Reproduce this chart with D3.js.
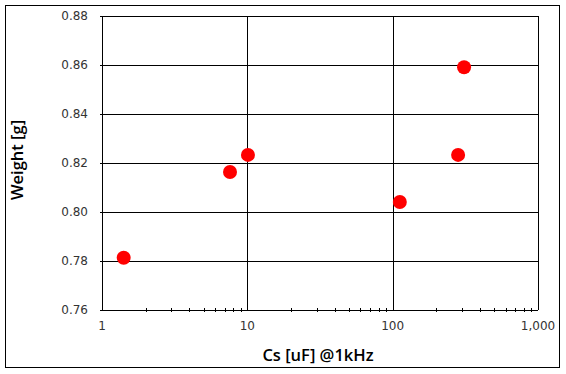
<!DOCTYPE html>
<html>
<head>
<meta charset="utf-8">
<script src="https://cdn.jsdelivr.net/npm/d3@7"></script>
<style>
  body { margin: 0; background: #fff; }
  text { font-family: "DejaVu Sans", Verdana, sans-serif; }
  .title { font-family: "Open Sans", "Noto Sans", sans-serif; font-weight: 600; font-size: 16.5px; }
</style>
</head>
<body>
<svg id="chart"></svg>
<script>
// data
const capacitance = [1.41, 7.6, 10.1, 112, 282, 310];
const weight = [0.7813, 0.8163, 0.8233, 0.8041, 0.8233, 0.8591];
const yTicks = [0.76, 0.78, 0.80, 0.82, 0.84, 0.86, 0.88];
const xMajor = [1, 10, 100, 1000];

const width = 566;
const height = 374;
const margin = { left: 102, right: 28, top: 16, bottom: 64 };

const svg = d3.select('svg#chart').attr('width', width).attr('height', height);

// outer frame
svg.append('rect')
  .attr('x', 5.5).attr('y', 5.5)
  .attr('width', 554).attr('height', 362)
  .attr('fill', 'none').attr('stroke', '#000').attr('stroke-width', 1);

const visWidth = width - margin.left - margin.right;
const visHeight = height - margin.top - margin.bottom;

const g = svg.append('g')
  .attr('transform', 'translate(' + margin.left + ', ' + margin.top + ')');

const xScale = d3.scaleLog().domain([1, 1000]).range([0, visWidth]);
const yScale = d3.scaleLinear().domain([0.76, 0.88]).range([visHeight, 0]);

// horizontal grid lines
g.append('g').selectAll('line').data(yTicks).enter().append('line')
  .attr('x1', 0).attr('x2', visWidth)
  .attr('y1', d => Math.round(yScale(d)) + 0.5)
  .attr('y2', d => Math.round(yScale(d)) + 0.5)
  .attr('stroke', '#000');

// vertical grid lines at decades
g.append('g').selectAll('line').data(xMajor).enter().append('line')
  .attr('x1', d => Math.round(xScale(d)) + 0.5)
  .attr('x2', d => Math.round(xScale(d)) + 0.5)
  .attr('y1', 0).attr('y2', visHeight)
  .attr('stroke', '#000');

// minor ticks on x axis
const minor = [];
[1, 10, 100].forEach(dec => { for (let k = 2; k <= 9; k++) minor.push(dec * k); });
g.append('g').selectAll('line').data(minor).enter().append('line')
  .attr('x1', d => Math.round(xScale(d)) + 0.5)
  .attr('x2', d => Math.round(xScale(d)) + 0.5)
  .attr('y1', visHeight - 2).attr('y2', visHeight + 2)
  .attr('stroke', '#000');

// small outward ticks on y axis
g.append('g').selectAll('line').data(yTicks).enter().append('line')
  .attr('x1', -2).attr('x2', 0)
  .attr('y1', d => Math.round(yScale(d)) + 0.5)
  .attr('y2', d => Math.round(yScale(d)) + 0.5)
  .attr('stroke', '#000');

// tick labels
g.append('g').selectAll('text').data(yTicks).enter().append('text')
  .attr('x', -14)
  .attr('y', d => yScale(d))
  .attr('dy', '0.35em')
  .attr('text-anchor', 'end')
  .attr('font-size', 12)
  .attr('fill', '#333')
  .text(d => d.toFixed(2));

const fmt = d3.format(',');
g.append('g').selectAll('text').data(xMajor).enter().append('text')
  .attr('x', d => xScale(d))
  .attr('y', visHeight + 20)
  .attr('text-anchor', 'middle')
  .attr('font-size', 12)
  .attr('fill', '#333')
  .text(d => fmt(d));

// axis titles
g.append('text')
  .attr('class', 'title')
  .attr('x', 216)
  .attr('y', visHeight + 51)
  .attr('text-anchor', 'middle')
  .text('Cs [uF] @1kHz');

g.append('text')
  .attr('class', 'title')
  .attr('transform', 'translate(' + (-79) + ', ' + (144) + ') rotate(-90)')
  .attr('text-anchor', 'middle')
  .text('Weight [g]');

// points
g.append('g').selectAll('circle').data(capacitance).enter().append('circle')
  .attr('cx', d => xScale(d))
  .attr('cy', (d, i) => yScale(weight[i]))
  .attr('r', 7)
  .attr('fill', '#ff0000');
</script>
</body>
</html>
